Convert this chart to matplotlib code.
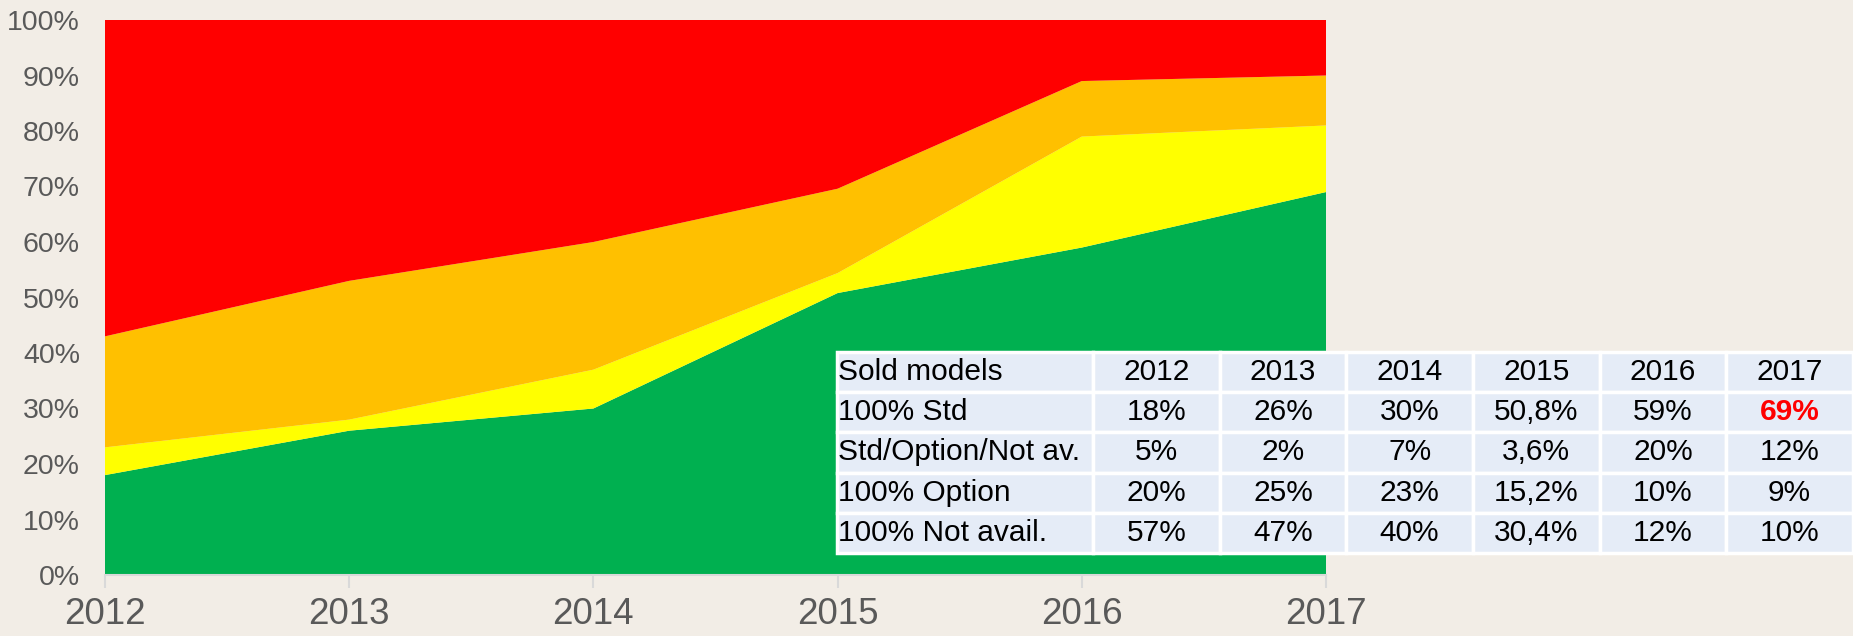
import numpy as np
import matplotlib
from matplotlib import pyplot as plt
matplotlib.rcParams['font.family'] = ['Liberation Sans', 'DejaVu Sans']

### data
years = [2012, 2013, 2014, 2015, 2016, 2017]
std_100 = [18, 26, 30, 50.8, 59, 69]
std_opt_na = [5, 2, 7, 3.6, 20, 12]
option_100 = [20, 25, 23, 15.2, 10, 9]
not_avail_100 = [57, 47, 40, 30.4, 12, 10]

row_labels = ['100% Std', 'Std/Option/Not av.', '100% Option', '100% Not avail.']
std_txt = ['18%', '26%', '30%', '50,8%', '59%', '69%']
mix_txt = ['5%', '2%', '7%', '3,6%', '20%', '12%']
opt_txt = ['20%', '25%', '23%', '15,2%', '10%', '9%']
na_txt = ['57%', '47%', '40%', '30,4%', '12%', '10%']

bg = '#F2EDE6'
cols = ['#00B050', '#FFFF00', '#FFC000', '#FF0000']

fig = plt.figure(figsize=(18.53, 6.36), dpi=100, facecolor=bg)
ax = fig.add_axes([105/1853, 61/636, 1221/1853, 555/636])
ax.set_facecolor(bg)
ax.stackplot(years, std_100, std_opt_na, option_100, not_avail_100,
             colors=cols, lw=0)
ax.set_xlim(2012, 2017)
ax.set_ylim(0, 100)
ax.set_yticks(np.arange(0, 101, 10))
ax.set_yticklabels([f'{v}%' for v in range(0, 101, 10)])
ax.set_xticks(years)
ax.tick_params(axis='y', length=0, pad=18, labelsize=20.5, labelcolor='#595959')
ax.tick_params(axis='x', length=9, width=1.5, color='#D9D9D9', pad=7,
               labelsize=26.5, labelcolor='#595959')
for s in ['top', 'right', 'left']:
    ax.spines[s].set_visible(False)
ax.spines['bottom'].set_color('#D9D9D9')
ax.spines['bottom'].set_linewidth(1.5)

### table
tax = fig.add_axes([837/1853, 83/636, 1016/1853, 201/636])
tax.axis('off')
cell_text = [['Sold models'] + [str(y) for y in years],
             [row_labels[0]] + std_txt,
             [row_labels[1]] + mix_txt,
             [row_labels[2]] + opt_txt,
             [row_labels[3]] + na_txt]
w0 = 256
wd = (1016 - w0) / 6
tbl = tax.table(cellText=cell_text, bbox=[0, 0, 1, 1],
                colWidths=[w0] + [wd] * 6, cellLoc='center')
tbl.auto_set_font_size(False)
for (r, c), cell in tbl.get_celld().items():
    cell.set_facecolor('#E5ECF7')
    cell.set_edgecolor('white')
    cell.set_linewidth(2.5)
    cell.get_text().set_fontsize(21.5)
    cell.get_text().set_color('black')
    if c == 0:
        cell.get_text().set_horizontalalignment('left')
        cell.PAD = 0.005
tbl[1, 6].get_text().set_color('#FF0000')
tbl[1, 6].get_text().set_fontweight('bold')

plt.savefig('out.png', dpi=100, facecolor=bg)
